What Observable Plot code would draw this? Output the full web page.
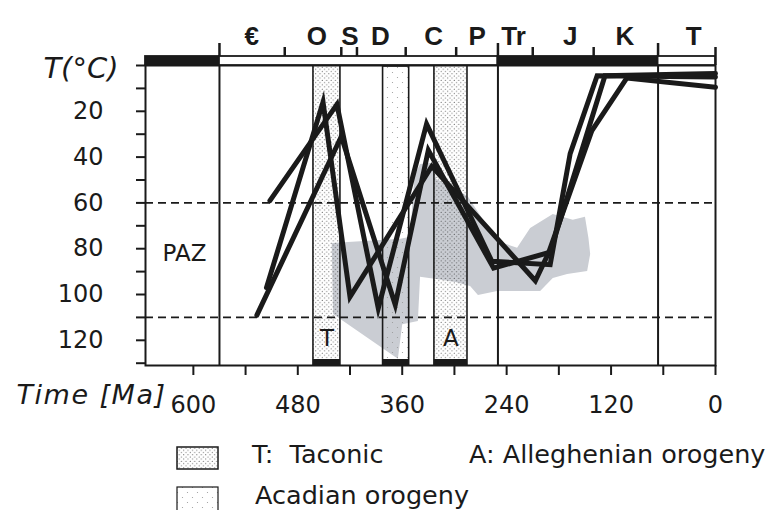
<!DOCTYPE html>
<html>
<head>
<meta charset="utf-8">
<script src="https://cdn.jsdelivr.net/npm/d3@7"></script>
<script src="https://cdn.jsdelivr.net/npm/@observablehq/plot@0.6"></script>
<style>
  body { margin: 0; background: #fff; }
  #chart { position: relative; width: 772px; }
  #legend text { font-family: "DejaVu Sans", sans-serif; font-size: 25.5px; fill: #1a1a1a; white-space: pre; }
</style>
</head>
<body>
<svg width="0" height="0" style="position:absolute">
  <defs>
    <pattern id="dense" width="4.4" height="4.4" patternUnits="userSpaceOnUse">
      <circle cx="1.1" cy="1.1" r="0.5" fill="#222"/>
      <circle cx="3.3" cy="3.3" r="0.5" fill="#222"/>
    </pattern>
    <pattern id="sparse" width="10" height="10" patternUnits="userSpaceOnUse">
      <circle cx="2.5" cy="2.5" r="0.6" fill="#999"/>
      <circle cx="7.5" cy="7.5" r="0.6" fill="#999"/>
    </pattern>
  </defs>
</svg>
<div id="chart"></div>
<svg id="legend" width="772" height="85">
  <rect x="177" y="22" width="41" height="22" fill="url(#dense)" stroke="#1a1a1a" stroke-width="1.5"/>
  <text x="252" y="38">T:  Taconic</text>
  <text x="469" y="38">A: Alleghenian orogeny</text>
  <rect x="177" y="62" width="41" height="24" fill="url(#sparse)" stroke="#1a1a1a" stroke-width="1.2"/>
  <text x="255" y="79">Acadian orogeny</text>
</svg>
<script>
// ---- geologic time scale (Ma) ----
const periodLabels   = ["€", "O", "S", "D", "C", "P", "Tr", "J", "K", "T"];
const periodLabelMa  = [533, 458, 420, 385, 324, 274, 232, 167, 104, 25];
const eraBoundaries  = [570, 250, 66];
const periodTicks    = [495, 430, 412, 356, 298, 210, 140, 0];
const eraNames  = ["Precambrian", "Paleozoic", "Mesozoic", "Cenozoic"];
const eraStart  = [655, 570, 250, 66];
const eraEnd    = [570, 250, 66, 0];
const eraSolid  = [true, false, true, false];

// ---- orogenies ----
const orogenyNames   = ["Taconic", "Acadian", "Alleghenian"];
const orogenyStart   = [462, 382, 323];
const orogenyEnd     = [431, 352, 285];
const orogenyTag     = ["T", "", "A"];
const orogenyPattern = ["dense", "sparse", "dense"];

// ---- partial annealing zone (°C) ----
const pazBounds = [60, 110];

// ---- axes ----
const xTicks  = [600, 540, 480, 420, 360, 300, 240, 180, 120, 60, 0];
const xLabels = [600, 480, 360, 240, 120, 0];
const yTicks  = [0, 10, 20, 30, 40, 50, 60, 70, 80, 90, 100, 110, 120, 130];
const yLabels = [20, 40, 60, 80, 100, 120];

// ---- thermal history paths (Ma, °C) ----
const path1Ma = [512, 435, 387.5, 332, 257, 190, 167, 136, 0];
const path1T  = [59, 17, 106, 25.5, 85.5, 87, 38.5, 4.5, 5];
const path2Ma = [516, 451, 420, 326, 207, 192, 142, 102, 0];
const path2T  = [97, 16, 101, 44, 94, 82, 28.4, 5.5, 9.5];
const path3Ma = [527, 430, 368, 330, 255, 190, 127, 0];
const path3T  = [109, 31, 104.5, 37, 88.5, 81.5, 4.5, 3.5];

// ---- grey envelope (Ma, °C) ----
const envMa = [441, 362, 351, 346, 339.5, 326, 321, 285, 251, 228, 213, 187, 164, 150, 146, 144, 147.5, 170.5, 187, 201.5, 251, 273, 282, 299, 321, 339.5, 342, 360, 365, 439.5];
const envT  = [77.5, 75.7, 74.8, 48, 43, 42.5, 49.5, 57, 76.6, 79.6, 71, 64.8, 67.4, 66, 75.3, 82.3, 89.7, 91, 92.8, 98.5, 98.5, 100.2, 96.3, 94.5, 93.2, 92.3, 111.6, 113, 128, 108.5];

// ---- tables built from the arrays ----
const eras = eraNames.map((n, i) => ({name: n, start: eraStart[i], end: eraEnd[i], solid: eraSolid[i]}));
const orogenies = orogenyNames.map((n, i) => ({name: n, start: orogenyStart[i], end: orogenyEnd[i], tag: orogenyTag[i], pattern: orogenyPattern[i]}));
const periods = periodLabels.map((l, i) => ({label: l, Ma: periodLabelMa[i]}));
const paths = [["1", path1Ma, path1T], ["2", path2Ma, path2T], ["3", path3Ma, path3T]]
  .flatMap(([id, ma, t]) => ma.map((m, i) => ({path: id, Ma: m, T: t[i]})));
const envelope = envMa.map((m, i) => ({Ma: m, T: envT[i]}));

const ink = "#1a1a1a";
const chart = Plot.plot({
  width: 772,
  height: 425,
  marginTop: 65,
  marginLeft: 145,
  marginRight: 57,
  marginBottom: 60,
  style: {fontFamily: "DejaVu Sans, sans-serif", fontSize: "24px", color: ink, background: "white", overflow: "visible"},
  x: {domain: [655, 0], ticks: xTicks, tickFormat: d => xLabels.includes(d) ? String(d) : "", tickSize: 10, tickPadding: 20, label: null},
  y: {domain: [0, 131], reverse: true, ticks: yTicks, tickFormat: d => yLabels.includes(d) ? String(d) : "", tickSize: 9, tickPadding: 33, label: null},
  marks: [
    Plot.line(envelope, {x: "Ma", y: "T", fill: "#cacdd3", stroke: "none"}),
    Plot.rect(orogenies.filter(d => d.pattern === "dense"), {x1: "start", x2: "end", fill: "url(#dense)", stroke: ink, strokeWidth: 1.6}),
    Plot.rect(orogenies.filter(d => d.pattern === "sparse"), {x1: "start", x2: "end", fill: "url(#sparse)", stroke: ink, strokeWidth: 1.6, insetTop: 1}),
    Plot.rect(orogenies, {x1: "start", x2: "end", fill: ink, insetTop: 294}),
    Plot.ruleY(pazBounds, {stroke: ink, strokeWidth: 1.6, strokeDasharray: "8,5"}),
    Plot.ruleX(eraBoundaries, {stroke: ink, strokeWidth: 2}),
    Plot.text(orogenies.filter(d => d.tag), {x: d => (d.start + d.end) / 2, text: "tag", frameAnchor: "bottom", dy: -20, fontSize: 23, fill: ink}),
    Plot.text(["PAZ"], {frameAnchor: "left", dx: 39, dy: 38, textAnchor: "middle", fontSize: 23, fill: ink}),
    Plot.line(paths, {x: "Ma", y: "T", z: "path", stroke: ink, strokeWidth: 5, strokeLinejoin: "miter", strokeMiterlimit: 12}),
    Plot.frame({stroke: ink, strokeWidth: 2}),
    // time-scale bar above the frame
    Plot.ruleX(eraBoundaries, {stroke: ink, strokeWidth: 2.5, insetTop: -22, insetBottom: 300}),
    Plot.ruleX(periodTicks, {stroke: ink, strokeWidth: 2.5, insetTop: -18, insetBottom: 300}),
    Plot.rect(eras, {x1: "start", x2: "end", fill: d => d.solid ? ink : "white", stroke: ink, strokeWidth: 1.8, insetTop: -9, insetBottom: 300}),
    Plot.text(periods, {x: "Ma", text: "label", frameAnchor: "top", dy: -39, fontSize: 26, fontWeight: "bold", fontFamily: "Liberation Sans, Arial, sans-serif", fill: ink}),
    Plot.text(["T(°C)"], {frameAnchor: "top-left", dx: -27, dy: -8, textAnchor: "end", fontSize: 29, fontStyle: "italic", fill: ink}),
    Plot.text(["Time [Ma]"], {frameAnchor: "bottom-left", dx: 21, dy: 38, textAnchor: "end", fontSize: 27, fontStyle: "italic", fill: ink})
  ]
});
document.getElementById("chart").appendChild(chart);
const svg = d3.select(chart);
svg.selectAll('g[aria-label$="-axis tick"]').attr("stroke-width", 2);
svg.selectAll("text").filter(function() { return this.textContent === "Time [Ma]"; }).style("letter-spacing", "1.5px");
</script>
</body>
</html>
